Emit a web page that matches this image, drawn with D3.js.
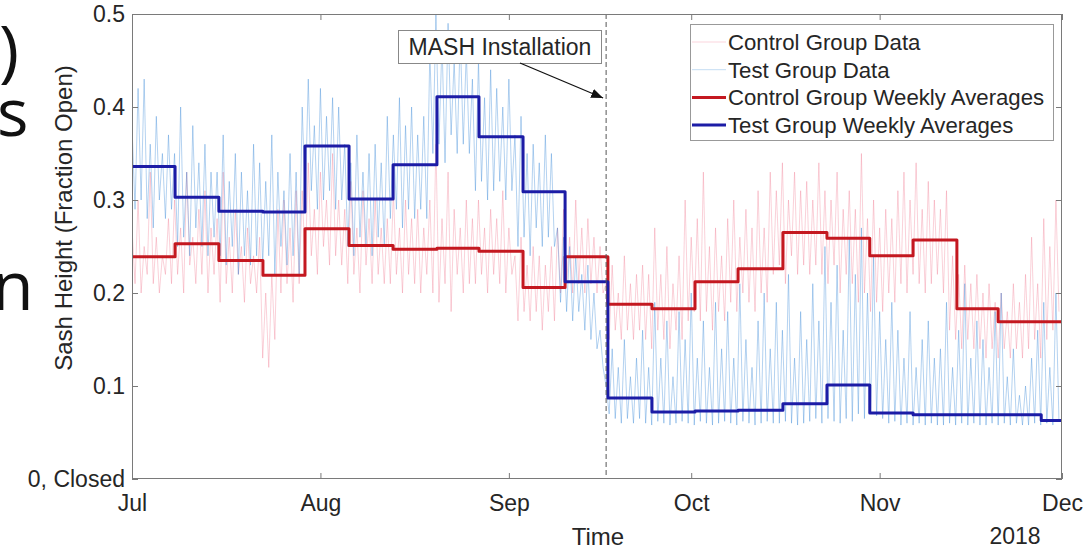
<!DOCTYPE html>
<html><head><meta charset="utf-8">
<script src="https://cdn.jsdelivr.net/npm/d3@7"></script>
<style>
body{margin:0;background:#fff;overflow:hidden;}
svg{display:block;font-family:"Liberation Sans",Arial,sans-serif;}
</style>
</head><body>
<svg id="chart" width="1083" height="553"></svg>
<script>
// ---------- data ----------
const monthTicks = ["2018-07-01","2018-08-01","2018-09-01","2018-10-01","2018-11-01","2018-12-01"];
const monthLabels = ["Jul","Aug","Sep","Oct","Nov","Dec"];
const yTicks = [0, 0.1, 0.2, 0.3, 0.4, 0.5];
const yTickLabels = ["0, Closed","0.1","0.2","0.3","0.4","0.5"];
const installDate = "2018-09-17T00:00";
const installLabel = "MASH Installation";

// weekly step boundaries (start of each averaging week) and end of data
const weekStarts = ["2018-07-01T00:00","2018-07-08T02:00","2018-07-15T07:00","2018-07-22T13:00","2018-07-29T11:00",
  "2018-08-05T17:00","2018-08-12T23:00","2018-08-20T04:00","2018-08-27T02:00","2018-09-03T08:00","2018-09-10T06:00",
  "2018-09-17T07:00","2018-09-24T13:00","2018-10-01T15:00","2018-10-08T17:00","2018-10-16T02:00","2018-10-23T08:00",
  "2018-10-30T09:00","2018-11-06T12:00","2018-11-13T17:00","2018-11-20T12:00","2018-11-27T14:00"];
const weekEnd = "2018-12-01T00:00";
const controlWeekly = [0.239,0.253,0.235,0.219,0.269,0.251,0.247,0.248,0.245,0.206,0.239,
  0.188,0.183,0.212,0.226,0.265,0.259,0.240,0.257,0.183,0.169,0.169];
const testWeekly = [0.336,0.303,0.288,0.287,0.358,0.301,0.338,0.411,0.368,0.309,0.212,
  0.087,0.072,0.073,0.074,0.081,0.101,0.071,0.069,0.069,0.069,0.063];

// raw readings, one every 12 hours from rawStart
const rawStart = "2018-07-01T00:00";
const rawStepHours = 12;
const controlData = [
 .27,.21,.30,.20,.25,.22,.33,.21,.26,.20,.24,.22,.28,.21,
 .30,.22,.27,.20,.33,.23,.26,.21,.29,.22,.31,.20,.27,.22,
 .28,.19,.33,.21,.26,.20,.29,.22,.25,.19,.27,.21,.24,.20,
 .26,.13,.20,.12,.22,.15,.29,.20,.30,.21,.27,.19,.31,.21,
 .31,.23,.34,.24,.29,.22,.33,.25,.30,.23,.35,.24,.30,.23,
 .29,.21,.32,.22,.27,.20,.31,.23,.28,.21,.30,.22,.27,.21,
 .28,.21,.31,.22,.27,.20,.30,.22,.28,.21,.29,.20,.27,.22,
 .30,.20,.36,.19,.28,.21,.33,.18,.29,.22,.27,.20,.30,.21,
 .28,.21,.30,.22,.27,.20,.29,.22,.28,.21,.31,.20,.27,.22,
 .24,.17,.26,.18,.23,.17,.25,.18,.24,.16,.23,.18,.25,.17,
 .27,.20,.29,.21,.26,.20,.30,.21,.27,.20,.28,.21,.26,.20,
 .25,.20,.21,.15,.23,.16,.20,.15,.24,.16,.21,.15,.22,.16,
 .23,.15,.22,.14,.27,.16,.22,.15,.25,.14,.21,.16,.24,.15,
 .30,.17,.26,.18,.28,.17,.33,.18,.25,.16,.27,.18,.24,.17,
 .28,.19,.30,.18,.26,.20,.29,.19,.27,.18,.31,.20,.27,.19,
 .33,.22,.31,.23,.34,.21,.30,.24,.33,.22,.31,.23,.32,.22,
 .30,.23,.34,.22,.31,.21,.30,.23,.33,.20,.29,.22,.31,.21,
 .29,.19,.35,.20,.28,.18,.30,.19,.27,.18,.29,.20,.28,.19,
 .31,.21,.33,.20,.30,.22,.34,.21,.29,.20,.32,.21,.30,.22,
 .29,.20,.31,.16,.24,.15,.22,.14,.23,.15,.21,.14,.22,.14,
 .20,.13,.21,.14,.19,.13,.20,.14,.18,.13,.21,.14,.19,.13,
 .22,.14,.26,.15,.21,.13,.28,.15,.25,.16,.30,.18];
const testData = [
 .38,.29,.42,.30,.43,.28,.36,.27,.39,.30,.35,.28,.37,.29,
 .35,.25,.40,.26,.33,.24,.38,.27,.34,.25,.36,.24,.33,.26,
 .33,.24,.37,.23,.32,.25,.35,.22,.33,.24,.31,.23,.36,.24,
 .34,.23,.32,.24,.37,.22,.33,.25,.31,.23,.35,.24,.33,.22,
 .40,.30,.43,.31,.38,.29,.42,.30,.39,.31,.41,.29,.40,.30,
 .36,.25,.34,.24,.37,.26,.33,.25,.35,.24,.36,.26,.34,.25,
 .39,.28,.37,.29,.41,.27,.38,.29,.40,.28,.37,.29,.39,.28,
 .46,.35,.50,.36,.47,.34,.49,.37,.45,.35,.48,.36,.46,.35,
 .43,.31,.45,.32,.41,.30,.44,.31,.42,.32,.40,.30,.43,.31,
 .37,.25,.39,.26,.35,.24,.36,.27,.34,.25,.37,.26,.35,.25,
 .27,.19,.26,.18,.25,.17,.24,.18,.22,.16,.23,.15,.20,.14,
 .16,.12,.10,.07,.14,.065,.12,.06,.15,.065,.11,.06,.13,.065,
 .16,.06,.12,.058,.19,.062,.13,.06,.17,.058,.11,.06,.18,.062,
 .15,.06,.20,.058,.13,.062,.17,.06,.12,.058,.19,.06,.14,.062,
 .18,.06,.13,.058,.21,.062,.15,.06,.12,.058,.17,.06,.20,.062,
 .14,.06,.19,.06,.16,.062,.22,.06,.13,.058,.18,.06,.15,.062,
 .21,.065,.17,.06,.25,.065,.19,.062,.23,.06,.16,.065,.26,.062,
 .22,.07,.27,.065,.20,.07,.24,.068,.18,.065,.15,.06,.19,.062,
 .16,.058,.13,.06,.18,.058,.12,.06,.15,.058,.17,.06,.13,.058,
 .14,.058,.19,.06,.12,.058,.16,.06,.21,.058,.13,.06,.17,.058,
 .15,.058,.12,.06,.18,.058,.20,.06,.11,.058,.14,.06,.09,.058,
 .10,.058,.13,.06,.16,.058,.19,.06,.12,.058,.20,.062];

const legendLabels = ["Control Group Data","Test Group Data","Control Group Weekly Averages","Test Group Weekly Averages"];
const xLabel = "Time";
const yLabel = "Sash Height (Fraction Open)";
const yearLabel = "2018";
const slideFragments = [")","s","n"];

// ---------- styles ----------
const C = {
  ctrlRaw: "#f0708a", testRaw: "#3a8ad8",
  ctrlAvg: "#c41820", testAvg: "#1c1ca6",
  axis: "#7a7a7a", text: "#262626"
};

// ---------- layout ----------
const svg = d3.select("#chart");
const M = {left:132, right:1062, top:14, bottom:479};
const parse = d3.isoParse;
const x = d3.scaleTime().domain([parse(monthTicks[0]), parse(monthTicks[monthTicks.length-1])]).range([M.left, M.right]);
const y = d3.scaleLinear().domain([0, 0.5]).range([M.bottom, M.top]);

// slide text fragments at the left edge (cut off)
const fragPos = [{x:-1,y:74,s:68},{x:-3,y:136,s:66},{x:-8,y:310,s:68}];
svg.append("g").selectAll("text").data(slideFragments).join("text")
  .attr("x",(d,i)=>fragPos[i].x).attr("y",(d,i)=>fragPos[i].y)
  .attr("font-size",(d,i)=>fragPos[i].s).attr("font-family","'Open Sans',sans-serif")
  .attr("fill","#111").text(d=>d);

// clip
svg.append("clipPath").attr("id","clip").append("rect")
  .attr("x",M.left).attr("y",M.top).attr("width",M.right-M.left).attr("height",M.bottom-M.top);

const plot = svg.append("g").attr("clip-path","url(#clip)");

const t0 = parse(rawStart);
const rawTime = i => d3.timeHour.offset(t0, i*rawStepHours);
const rawLine = d3.line().x((d,i)=>x(rawTime(i))).y(d=>y(d));

plot.append("path").datum(controlData).attr("d",rawLine)
  .attr("fill","none").attr("stroke",C.ctrlRaw).attr("stroke-width",1).attr("stroke-opacity",0.32);
plot.append("path").datum(testData).attr("d",rawLine)
  .attr("fill","none").attr("stroke",C.testRaw).attr("stroke-width",1).attr("stroke-opacity",0.38);

// weekly step lines
const stepPts = vals => {
  const pts = vals.map((v,i)=>({t:parse(weekStarts[i]), v}));
  pts.push({t:parse(weekEnd), v:vals[vals.length-1]});
  return pts;
};
const stepLine = d3.line().x(d=>x(d.t)).y(d=>y(d.v)).curve(d3.curveStepAfter);
plot.append("path").datum(stepPts(controlWeekly)).attr("d",stepLine)
  .attr("fill","none").attr("stroke",C.ctrlAvg).attr("stroke-width",3).attr("stroke-linejoin","round");
plot.append("path").datum(stepPts(testWeekly)).attr("d",stepLine)
  .attr("fill","none").attr("stroke",C.testAvg).attr("stroke-width",3).attr("stroke-linejoin","round");

// installation marker
const xi = x(parse(installDate));
svg.append("line").attr("x1",xi).attr("x2",xi).attr("y1",M.top).attr("y2",M.bottom)
  .attr("stroke","#555").attr("stroke-width",1).attr("stroke-dasharray","5,3");

// axes (ticks inward on all four sides)
const tickDates = monthTicks.map(parse);
const axB = d3.axisBottom(x).tickValues(tickDates).tickFormat((d,i)=>monthLabels[i]).tickSizeInner(-6).tickSizeOuter(0).tickPadding(16);
const axT = d3.axisTop(x).tickValues(tickDates).tickFormat("").tickSizeInner(-6).tickSizeOuter(0);
const axL = d3.axisLeft(y).tickValues(yTicks).tickFormat((d,i)=>yTickLabels[i]).tickSizeInner(-6).tickSizeOuter(0).tickPadding(7);
const axR = d3.axisRight(y).tickValues(yTicks).tickFormat("").tickSizeInner(-6).tickSizeOuter(0);

function style(g){
  g.select(".domain").remove();
  g.selectAll(".tick line").attr("stroke",C.axis);
  g.selectAll("text").attr("fill",C.text).attr("font-size",23).attr("font-family","'Liberation Sans',Arial,sans-serif");
}
svg.append("g").attr("transform",`translate(0,${M.bottom})`).call(axB).call(style);
svg.append("g").attr("transform",`translate(0,${M.top})`).call(axT).call(style);
svg.append("g").attr("transform",`translate(${M.left},0)`).call(axL).call(style);
svg.append("g").attr("transform",`translate(${M.right},0)`).call(axR).call(style);

svg.append("rect").attr("x",M.left+0.5).attr("y",M.top+0.5).attr("width",M.right-M.left-1).attr("height",M.bottom-M.top-1)
  .attr("fill","none").attr("stroke",C.axis).attr("stroke-width",1);

// axis titles
svg.append("text").attr("x",(M.left+M.right)/2+1).attr("y",545).attr("text-anchor","middle")
  .attr("font-size",24).attr("fill",C.text).text(xLabel);
svg.append("text").attr("x",x(tickDates[tickDates.length-1])-47).attr("y",544).attr("text-anchor","middle")
  .attr("font-size",23).attr("fill",C.text).text(yearLabel);
svg.append("text").attr("transform",`translate(72,${218}) rotate(-90)`).attr("text-anchor","middle")
  .attr("font-size",24).attr("fill",C.text).text(yLabel);

// annotation
const ann = svg.append("g");
ann.append("rect").attr("x",398.5).attr("y",30.5).attr("width",203).attr("height",33)
  .attr("fill","#fff").attr("stroke","#888");
ann.append("text").attr("x",500).attr("y",55).attr("text-anchor","middle").attr("font-size",23)
  .attr("fill",C.text).text(installLabel);
svg.append("defs").append("marker").attr("id","arr").attr("viewBox","0 0 10 10").attr("refX",10).attr("refY",5)
  .attr("markerWidth",12).attr("markerHeight",12).attr("markerUnits","userSpaceOnUse").attr("orient","auto")
  .append("path").attr("d","M0,1 L10,5 L0,9 Z").attr("fill","#111");
ann.append("line").attr("x1",520).attr("y1",63).attr("x2",xi-3).attr("y2",98)
  .attr("stroke","#111").attr("stroke-width",1.2).attr("marker-end","url(#arr)");

// legend
const lg = svg.append("g");
lg.append("rect").attr("x",690.5).attr("y",24.5).attr("width",363).attr("height",116)
  .attr("fill","#fff").attr("stroke","#999");
const legStyles = [
  {c:C.ctrlRaw, w:1, o:0.3},{c:C.testRaw, w:1, o:0.3},{c:C.ctrlAvg, w:3, o:1},{c:C.testAvg, w:3, o:1}
];
const rows = lg.selectAll("g").data(legendLabels).join("g")
  .attr("transform",(d,i)=>`translate(0,${42+i*27.7})`);
rows.append("line").attr("x1",692).attr("x2",726).attr("y1",0).attr("y2",0)
  .attr("stroke",(d,i)=>legStyles[i].c).attr("stroke-width",(d,i)=>legStyles[i].w).attr("stroke-opacity",(d,i)=>legStyles[i].o);
rows.append("text").attr("x",728).attr("y",0).attr("dy","0.36em").attr("font-size",22.2)
  .attr("fill",C.text).text(d=>d);
</script>
</body></html>
